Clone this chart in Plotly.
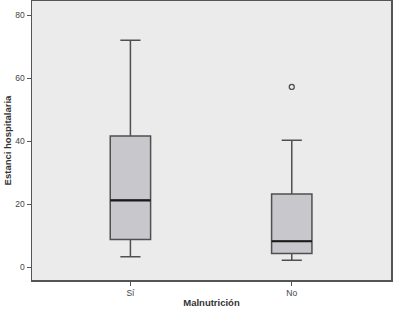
import plotly.graph_objects as go

categories = ["Sí", "No"]
lower_whisker = [3.3, 2.2]
q1 = [8.8, 4.3]
median = [21.2, 8.2]
q3 = [41.6, 23.2]
upper_whisker = [72.0, 40.3]
outlier_cat = ["No"]
outlier_val = [57.2]
yticks = [0, 20, 40, 60, 80]

box_w = 0.25
line_col = "#505050"

fig = go.Figure()
fig.add_trace(go.Box(
    x=categories,
    q1=q1, median=median, q3=q3,
    lowerfence=lower_whisker, upperfence=upper_whisker,
    fillcolor="#c7c7cc",
    line=dict(color=line_col, width=1.5),
    whiskerwidth=0.5,
    width=box_w,
    boxpoints=False,
    hoverinfo="skip",
    showlegend=False,
))
fig.add_trace(go.Scatter(
    x=outlier_cat, y=outlier_val, mode="markers",
    marker=dict(symbol="circle-open", size=5, color=line_col, line=dict(width=1.3)),
    showlegend=False, hoverinfo="skip",
))

for i, m in enumerate(median):
    fig.add_shape(type="line", xref="x", yref="y",
                  x0=i - box_w / 2, x1=i + box_w / 2, y0=m, y1=m,
                  line=dict(color="#1a1a1a", width=2.2))

fig.update_layout(
    width=395, height=311,
    margin=dict(l=32, r=4, t=1, b=31, autoexpand=False),
    paper_bgcolor="white",
    plot_bgcolor="#ebebeb",
    font=dict(family="Liberation Sans, Arial", color="#444"),
)
fig.update_xaxes(
    type="category", categoryorder="array", categoryarray=categories,
    range=[-0.61, 1.615],
    showline=True, mirror=True, linecolor="#555", linewidth=1.5,
    ticks="outside", ticklen=4, tickcolor="#555",
    tickfont=dict(size=8.5, color="#444"),
    showgrid=False, zeroline=False, automargin=False,
    title=dict(text="<b>Malnutrición</b>", font=dict(size=9.5, color="#333"), standoff=2),
)
fig.update_yaxes(
    range=[-4.1, 84.5],
    tickvals=yticks,
    showline=True, mirror=True, linecolor="#555", linewidth=1.5,
    ticks="outside", ticklen=4, tickcolor="#555",
    tickfont=dict(size=8.5, color="#444"),
    showgrid=False, zeroline=False, automargin=False,
    title=dict(text="<b>Estanci hospitalaria</b>", font=dict(size=9.5, color="#333"), standoff=2),
)

fig.write_html(
    "out.html",
    config={"displayModeBar": False, "staticPlot": True},
    post_script="document.body.style.margin='0';document.body.style.padding='0';",
)
